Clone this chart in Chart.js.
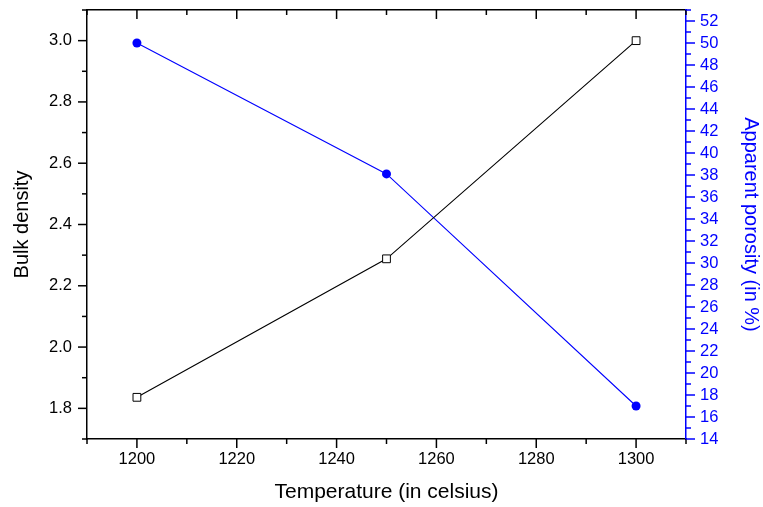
<!DOCTYPE html>
<html>
<head>
<meta charset="utf-8">
<script src="https://cdn.jsdelivr.net/npm/chart.js@4/dist/chart.umd.min.js"></script>
<style>
  html, body { margin: 0; padding: 0; background: #fff; }
  #wrap { width: 763px; height: 507px; }
</style>
</head>
<body>
<div id="wrap"><canvas id="chart" width="763" height="507"></canvas></div>
<script>
const temperatures = [1200, 1250, 1300]
const bulkDensity = [1.836, 2.288, 3.0]
const apparentPorosity = [50.0, 38.1, 17.0]

const BLUE = "#0000ff"
const FONT = "'Liberation Sans', Arial, Helvetica, sans-serif"

// which ticks get a label / long tick mark
const isMajor = {
  x: v => Math.round(v) % 20 === 0,
  xTop: v => Math.round(v) % 20 === 0,
  y: v => Math.round(v * 10) % 2 === 0,
  y2: v => Math.round(v) % 2 === 0
}

// Origin-style tick marks: long major, short minor, top axis ticks point inward
const tickMarks = {
  id: "tickMarks",
  afterDraw(chart) {
    const ctx = chart.ctx
    const sides = [
      { id: "x", edge: "bottom", dir: 1, color: "#000" },
      { id: "xTop", edge: "top", dir: 1, color: "#000" },
      { id: "y", edge: "left", dir: -1, color: "#000" },
      { id: "y2", edge: "right", dir: 1, color: BLUE }
    ]
    ctx.save()
    ctx.lineWidth = 1.5
    sides.forEach(s => {
      const scale = chart.scales[s.id]
      const area = chart.chartArea
      ctx.strokeStyle = s.color
      scale.ticks.forEach(t => {
        const len = isMajor[s.id](t.value) ? 9 : 5
        const p = scale.getPixelForValue(t.value)
        ctx.beginPath()
        if (s.edge === "bottom" || s.edge === "top") {
          const y0 = area[s.edge]
          ctx.moveTo(p, y0)
          ctx.lineTo(p, y0 + s.dir * len)
        } else {
          const x0 = area[s.edge]
          ctx.moveTo(x0, p)
          ctx.lineTo(x0 + s.dir * len, p)
        }
        ctx.stroke()
      })
    })
    ctx.restore()
  }
}

// fixed box sizes so the plot area lands where we want it
const fixHeight = h => s => { s.height = h; s.paddingLeft = 0; s.paddingRight = 0 }
const fixWidth = w => s => { s.width = w; s.paddingTop = 0; s.paddingBottom = 0 }

const ctx = document.getElementById("chart").getContext("2d")
new Chart(ctx, {
  type: "line",
  data: {
    datasets: [
      {
        label: "Bulk density",
        data: temperatures.map((t, i) => ({ x: t, y: bulkDensity[i] })),
        yAxisID: "y",
        borderColor: "#000",
        borderWidth: 1.1,
        pointStyle: "rect",
        pointRadius: 5.5,
        pointBackgroundColor: "#fff",
        pointBorderColor: "#000",
        pointBorderWidth: 1,
        tension: 0,
        fill: false
      },
      {
        label: "Apparent porosity",
        data: temperatures.map((t, i) => ({ x: t, y: apparentPorosity[i] })),
        yAxisID: "y2",
        borderColor: BLUE,
        borderWidth: 1.1,
        pointStyle: "circle",
        pointRadius: 4.5,
        pointBackgroundColor: BLUE,
        pointBorderColor: BLUE,
        pointBorderWidth: 0,
        tension: 0,
        fill: false
      }
    ]
  },
  options: {
    responsive: false,
    animation: false,
    layout: { padding: 0 },
    plugins: {
      legend: { display: false },
      tooltip: { enabled: false }
    },
    scales: {
      x: {
        type: "linear",
        position: "bottom",
        min: 1190,
        max: 1310,
        grid: { display: false, tickLength: 9 },
        border: { display: true, color: "#000", width: 1.5 },
        ticks: {
          stepSize: 10,
          autoSkip: false,
          maxRotation: 0,
          padding: 2,
          color: "#000",
          font: { family: FONT, size: 16.5 },
          callback: v => (isMajor.x(v) ? String(v) : "")
        },
        title: {
          display: true,
          text: "Temperature (in celsius)",
          color: "#000",
          font: { family: FONT, size: 21 },
          padding: { top: 0, bottom: 2 }
        },
        afterFit: fixHeight(68)
      },
      xTop: {
        type: "linear",
        position: "top",
        min: 1190,
        max: 1310,
        grid: { display: false },
        border: { display: true, color: "#000", width: 1.5 },
        ticks: { stepSize: 10, display: false },
        afterFit: fixHeight(10)
      },
      y: {
        type: "linear",
        position: "left",
        min: 1.7,
        max: 3.1,
        grid: { display: false, tickLength: 9 },
        border: { display: true, color: "#000", width: 1.5 },
        ticks: {
          stepSize: 0.1,
          autoSkip: false,
          padding: 6,
          color: "#000",
          font: { family: FONT, size: 16.5 },
          callback: v => (isMajor.y(v) ? v.toFixed(1) : "")
        },
        title: {
          display: true,
          text: "Bulk density",
          color: "#000",
          font: { family: FONT, size: 20 },
          padding: { top: 10, bottom: 0 }
        },
        afterFit: fixWidth(87)
      },
      y2: {
        type: "linear",
        position: "right",
        min: 14,
        max: 53,
        grid: { display: false, tickLength: 9 },
        border: { display: true, color: BLUE, width: 1.5 },
        ticks: {
          stepSize: 1,
          autoSkip: false,
          padding: 5,
          color: BLUE,
          font: { family: FONT, size: 16.5 },
          callback: v => (isMajor.y2(v) ? String(v) : "")
        },
        title: {
          display: true,
          text: "Apparent porosity (in %)",
          color: BLUE,
          font: { family: FONT, size: 20 },
          padding: { top: 0, bottom: 0 }
        },
        afterFit: fixWidth(77)
      }
    }
  },
  plugins: [tickMarks]
})
</script>
</body>
</html>
